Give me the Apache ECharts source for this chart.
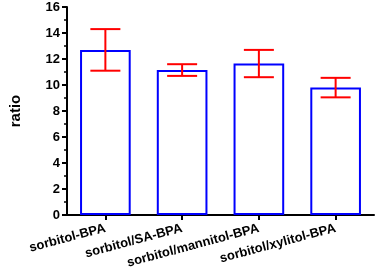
<!DOCTYPE html>
<html><head><meta charset="utf-8">
<script src="https://cdn.jsdelivr.net/npm/echarts@6/dist/echarts.min.js"></script>
<style>html,body{margin:0;padding:0;background:#fff}#c{width:378px;height:273px}</style>
</head><body><div id="c"></div>
<script>
const categories = ['sorbitol-BPA', 'sorbitol/SA-BPA', 'sorbitol/mannitol-BPA', 'sorbitol/xylitol-BPA'];
const means = [12.7, 11.15, 11.65, 9.8];
const errors = [1.6, 0.45, 1.05, 0.75];
const yTicks = [0, 2, 4, 6, 8, 10, 12, 14, 16];

const chart = echarts.init(document.getElementById('c'), null, {renderer: 'canvas'});
const font = 'Liberation Sans, Arial, sans-serif';
chart.setOption({
  animation: false,
  grid: {left: 60, right: 4, top: 7, bottom: 58, containLabel: false},
  xAxis: {
    type: 'category', data: categories,
    axisLine: {lineStyle: {color: '#000', width: 2}},
    axisTick: {show: true, alignWithLabel: true, length: 5, lineStyle: {color: '#000', width: 2}},
    axisLabel: {rotate: 15, color: '#000', fontWeight: 'bold', fontSize: 13, fontFamily: font, margin: 13, interval: 0}
  },
  yAxis: {
    type: 'value', min: yTicks[0], max: yTicks[yTicks.length - 1], interval: 2,
    name: 'ratio', nameLocation: 'middle', nameGap: 44,
    nameTextStyle: {color: '#000', fontWeight: 'bold', fontSize: 15, fontFamily: font},
    axisLine: {show: true, lineStyle: {color: '#000', width: 2}},
    axisTick: {show: true, length: 5, lineStyle: {color: '#000', width: 2}},
    minorTick: {show: true, splitNumber: 2, length: 3, lineStyle: {color: '#000', width: 1.5}},
    splitLine: {show: false},
    axisLabel: {color: '#000', fontWeight: 'bold', fontSize: 13, fontFamily: font, margin: 7}
  },
  series: [
    {
      type: 'bar', data: means, barWidth: '66%',
      itemStyle: {color: '#fff', borderColor: '#0000ff', borderWidth: 2}
    },
    {
      type: 'custom',
      data: means.map((m, i) => [i, m - errors[i], m + errors[i]]),
      renderItem: function (params, api) {
        const x = api.value(0);
        const lo = api.coord([x, api.value(1)]);
        const hi = api.coord([x, api.value(2)]);
        const hw = 15;
        const st = {stroke: '#ff0000', lineWidth: 2};
        return {type: 'group', children: [
          {type: 'line', shape: {x1: lo[0], y1: lo[1], x2: hi[0], y2: hi[1]}, style: st},
          {type: 'line', shape: {x1: hi[0] - hw, y1: hi[1], x2: hi[0] + hw, y2: hi[1]}, style: st},
          {type: 'line', shape: {x1: lo[0] - hw, y1: lo[1], x2: lo[0] + hw, y2: lo[1]}, style: st}
        ]};
      },
      z: 3
    }
  ]
});
</script></body></html>
